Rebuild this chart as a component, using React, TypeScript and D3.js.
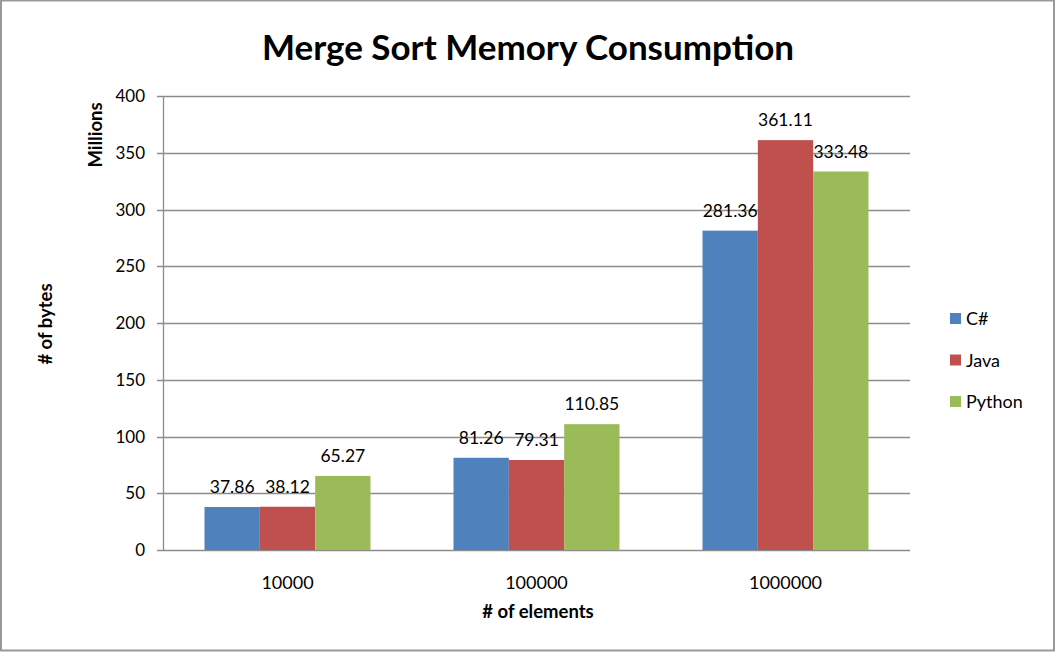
import React, { useEffect, useRef } from "react";
import * as d3 from "d3";

const categories = ["10000", "100000", "1000000"];
const seriesNames = ["C#", "Java", "Python"];
const csharp = [37.86, 81.26, 281.36];
const java = [38.12, 79.31, 361.11];
const python = [65.27, 110.85, 333.48];
const colors = ["#4F81BD", "#C0504D", "#9BBB59"];
const yTicks = [0, 50, 100, 150, 200, 250, 300, 350, 400];

const App = () => {
  const svgRef = useRef<SVGSVGElement>(null);

  useEffect(() => {
    const width = 1056;
    const height = 652;
    const left = 163;
    const right = 910;
    const top = 96;
    const bottom = 550;
    const font = "Lato, 'Open Sans', sans-serif";

    const svg = d3.select(svgRef.current);
    svg.selectAll("*").remove();
    svg.attr("width", width).attr("height", height);

    svg
      .append("rect")
      .attr("x", 1)
      .attr("y", 0.5)
      .attr("width", 1053)
      .attr("height", 650)
      .attr("fill", "white")
      .attr("stroke", "#999")
      .attr("stroke-width", 2);

    const values = [csharp, java, python];
    const data = categories.map((c, i) => ({
      category: c,
      items: seriesNames.map((s, j) => ({ name: s, value: values[j][i], color: colors[j] })),
    }));

    const x0 = d3.scaleBand().domain(categories).range([left, right]).padding(0);
    const bw = x0.bandwidth();
    const x1 = d3
      .scaleBand()
      .domain(seriesNames)
      .range([bw / 6, (bw * 5) / 6])
      .padding(0);
    const y = d3.scaleLinear().domain([0, 400]).range([bottom, top]);

    // gridlines
    svg
      .append("g")
      .selectAll("line")
      .data(yTicks)
      .enter()
      .append("line")
      .attr("x1", left - 6)
      .attr("x2", right)
      .attr("y1", (d) => Math.round(y(d)) + 0.5)
      .attr("y2", (d) => Math.round(y(d)) + 0.5)
      .attr("stroke", "#8c8c8c")
      .attr("stroke-width", 1.3);

    svg
      .append("line")
      .attr("x1", left + 0.5)
      .attr("x2", left + 0.5)
      .attr("y1", top)
      .attr("y2", bottom)
      .attr("stroke", "#8c8c8c")
      .attr("stroke-width", 1.3);

    svg
      .append("g")
      .selectAll("text")
      .data(yTicks)
      .enter()
      .append("text")
      .attr("x", 145)
      .attr("y", (d) => y(d) + 6)
      .attr("text-anchor", "end")
      .attr("font-family", font)
      .attr("font-size", 17)
      .text((d) => d);

    const groups = svg
      .append("g")
      .selectAll("g")
      .data(data)
      .enter()
      .append("g")
      .attr("transform", (d) => `translate(${x0(d.category)},0)`);

    groups
      .selectAll("rect")
      .data((d) => d.items)
      .enter()
      .append("rect")
      .attr("x", (d) => x1(d.name)!)
      .attr("width", x1.bandwidth())
      .attr("y", (d) => y(d.value))
      .attr("height", (d) => bottom - y(d.value))
      .attr("fill", (d) => d.color);

    groups
      .selectAll("text")
      .data((d) => d.items)
      .enter()
      .append("text")
      .attr("x", (d) => x1(d.name)! + x1.bandwidth() / 2)
      .attr("y", (d) => y(d.value) - 14)
      .attr("text-anchor", "middle")
      .attr("font-family", font)
      .attr("font-size", 17.5)
      .text((d) => d.value.toFixed(2));

    svg
      .append("g")
      .selectAll("text")
      .data(categories)
      .enter()
      .append("text")
      .attr("x", (d) => x0(d)! + bw / 2)
      .attr("y", 589)
      .attr("text-anchor", "middle")
      .attr("font-family", font)
      .attr("font-size", 18)
      .text((d) => d);

    svg
      .append("text")
      .attr("x", 528)
      .attr("y", 60)
      .attr("text-anchor", "middle")
      .attr("font-family", font)
      .attr("font-weight", "bold")
      .attr("font-size", 35)
      .text("Merge Sort Memory Consumption");

    svg
      .append("text")
      .attr("x", 538)
      .attr("y", 618)
      .attr("text-anchor", "middle")
      .attr("font-family", font)
      .attr("font-weight", "bold")
      .attr("font-size", 18.5)
      .text("# of elements");

    svg
      .append("text")
      .attr("transform", "translate(52,324) rotate(-90)")
      .attr("text-anchor", "middle")
      .attr("font-family", font)
      .attr("font-weight", "bold")
      .attr("font-size", 18.5)
      .text("# of bytes");

    svg
      .append("text")
      .attr("transform", "translate(102,135) rotate(-90)")
      .attr("text-anchor", "middle")
      .attr("font-family", font)
      .attr("font-weight", "bold")
      .attr("font-size", 18.5)
      .text("Millions");

    const legend = svg
      .append("g")
      .selectAll("g")
      .data(seriesNames)
      .enter()
      .append("g")
      .attr("transform", (d, i) => `translate(950,${313 + i * 41.5})`);
    legend
      .append("rect")
      .attr("width", 11)
      .attr("height", 11)
      .attr("fill", (d, i) => colors[i]);
    legend
      .append("text")
      .attr("x", 16)
      .attr("y", 12)
      .attr("font-family", font)
      .attr("font-size", 18)
      .text((d) => d);
  }, []);

  return (
    <svg
      ref={svgRef}
      style={{ position: "absolute", left: 0, top: 0, display: "block" }}
    ></svg>
  );
};

export default App;
